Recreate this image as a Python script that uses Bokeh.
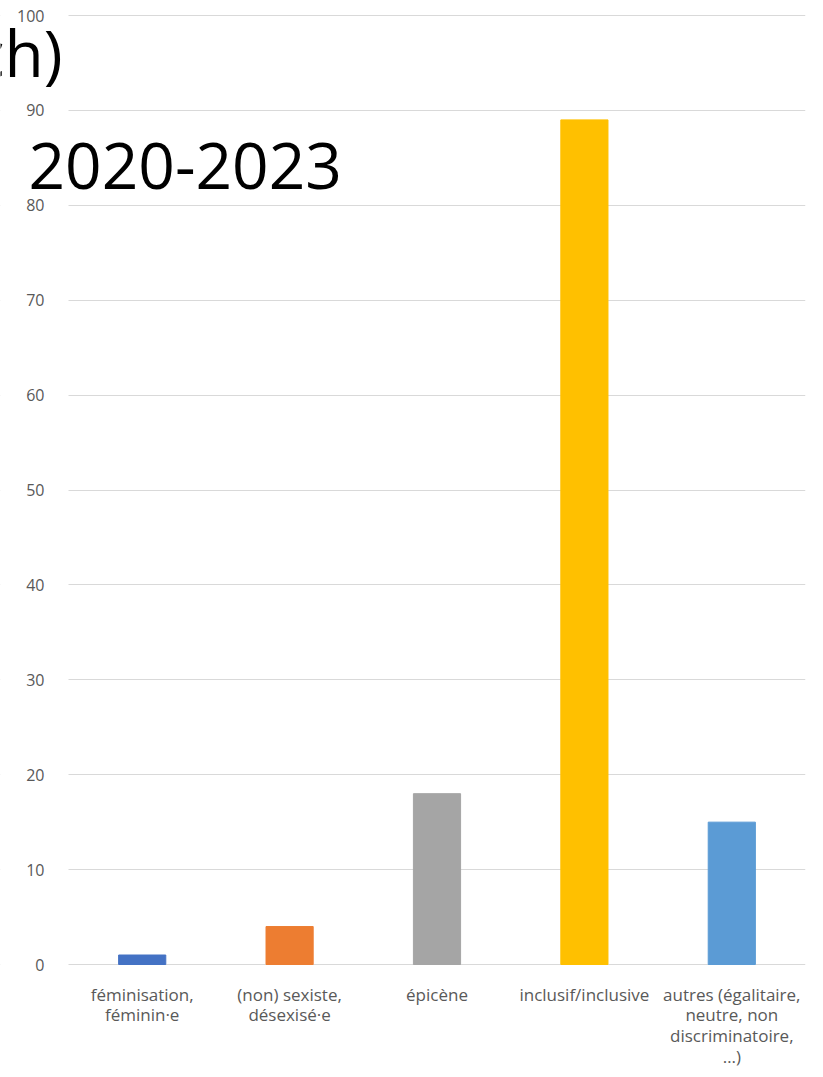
import numpy as np
from bokeh.plotting import figure
from bokeh.models import (ColumnDataSource, Range1d, Label, SingleIntervalTicker,
                          FixedTicker, BoxAnnotation)
from bokeh.embed import file_html
from bokeh.resources import INLINE

categories = [
    "féminisation,\nféminin·e",
    "(non) sexiste,\ndésexisé·e",
    "épicène",
    "inclusif/inclusive",
    "autres (égalitaire,\nneutre, non\ndiscriminatoire,\n…)",
]
counts = [1, 4, 18, 89, 15]
bar_colors = ["#4472C4", "#ED7D31", "#A5A5A5", "#FFC000", "#5B9BD5"]

xpos = np.arange(len(categories)) + 0.5
source = ColumnDataSource(dict(x=xpos, val=counts, color=bar_colors))

W, H = 815, 1075
left_px = 68
right_border = 10
frame_w = W - right_border
unit = (frame_w - left_px) / len(categories)

# vertical layout: value 100 at 15px from top, value 0 at 964px, frame 0..975px
ppu = (964 - 15) / 100.0
y_top = 100 + 15 / ppu
y_bottom = -(975 - 964) / ppu

p = figure(
    x_range=Range1d(-left_px / unit, len(categories)),
    y_range=Range1d(y_bottom, y_top),
    width=W, height=H,
    output_backend="svg", toolbar_location=None,
    min_border_left=0, min_border_right=right_border, min_border_top=0,
    min_border_bottom=H - 975,
)

p.vbar(x="x", top="val", width=0.32, color="color", source=source)

# hide grid lines in the area left of the value axis
p.add_layout(BoxAnnotation(right=0, fill_color="white", fill_alpha=1.0,
                           line_color=None, level="glyph"))

p.outline_line_color = None
p.xgrid.grid_line_color = None
p.ygrid.ticker = SingleIntervalTicker(interval=10)
p.ygrid.grid_line_color = "#D9D9D9"
p.ygrid.grid_line_width = 1

p.yaxis.fixed_location = 0
p.yaxis.ticker = SingleIntervalTicker(interval=10)
p.yaxis.axis_line_color = None
p.yaxis.major_tick_line_color = None
p.yaxis.minor_tick_line_color = None
p.yaxis.major_label_text_font = "Open Sans"
p.yaxis.major_label_text_font_size = "16px"
p.yaxis.major_label_text_color = "#595959"
p.yaxis.major_label_standoff = 18

p.xaxis.ticker = FixedTicker(ticks=list(xpos))
p.xaxis.major_label_overrides = {float(x): c for x, c in zip(xpos, categories)}
p.xaxis.axis_line_color = None
p.xaxis.major_tick_line_color = None
p.xaxis.minor_tick_line_color = None
p.xaxis.major_label_text_font = "Open Sans"
p.xaxis.major_label_text_font_size = "17px"
p.xaxis.major_label_text_color = "#595959"
p.xaxis.major_label_standoff = 1
p.xaxis.major_label_text_line_height = 0.9

p.add_layout(Label(x=62, y=52, x_units="canvas", y_units="canvas", text="ch)",
                   text_font="Open Sans", text_font_size="64px", text_color="#000000",
                   text_align="right", text_baseline="alphabetic"))
p.add_layout(Label(x=28, y=165, x_units="canvas", y_units="canvas", text="2020-2023",
                   text_font="Open Sans", text_font_size="64px", text_color="#000000",
                   text_align="left", text_baseline="alphabetic"))

open("out.html", "w").write(file_html(p, INLINE))
